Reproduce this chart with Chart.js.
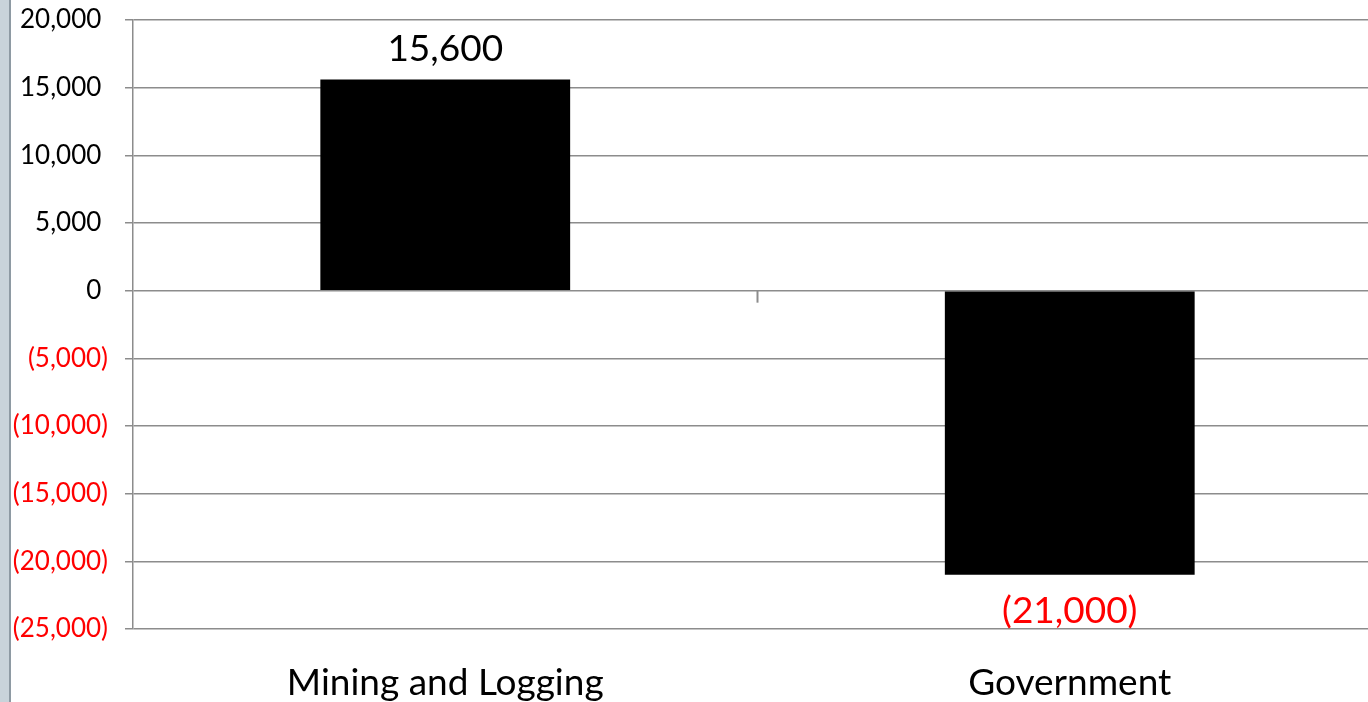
<!DOCTYPE html>
<html>
<head>
<meta charset="utf-8">
<title>Mining and Logging vs Government</title>
<script src="https://cdn.jsdelivr.net/npm/chart.js@4"></script>
<style>
  html, body { margin: 0; padding: 0; background: #fff; overflow: hidden; }
  #wrap { position: relative; width: 1390px; height: 702px; }
  #frame {
    position: absolute; left: 0; top: 0; width: 9px; height: 702px;
    background: #c9d3da; border-right: 2px solid #8e9aa3; z-index: 2;
  }
</style>
</head>
<body>
<div id="wrap">
  <div id="frame"></div>
  <canvas id="barChart"></canvas>
</div>
<script>
// chart data
const categories = ["Mining and Logging", "Government"];
const values = [15600, -21000];
const yTicks = [-25000, -20000, -15000, -10000, -5000, 0, 5000, 10000, 15000, 20000];

const FONT = "Lato, 'Open Sans', sans-serif";
const RED = "#ff0000";

// accounting style: negatives in brackets
function fmt(v) {
  const s = Math.abs(v).toLocaleString("en-US");
  return v < 0 ? `(${s})` : s;
}

// value labels above / below each bar
const barLabels = {
  id: "barLabels",
  afterDatasetsDraw(chart) {
    const ctx = chart.ctx;
    const meta = chart.getDatasetMeta(0);
    ctx.save();
    ctx.font = `37px ${FONT}`;
    ctx.textAlign = "center";
    ctx.textBaseline = "alphabetic";
    meta.data.forEach((bar, i) => {
      const v = values[i];
      ctx.fillStyle = v < 0 ? RED : "#000";
      const y = v < 0 ? bar.y + 48 : bar.y - 19;
      ctx.fillText(fmt(v), bar.x, y);
    });
    ctx.restore();
  },
};

// little tick on the zero line between the two categories
const zeroTick = {
  id: "zeroTick",
  afterDraw(chart) {
    const { x, y } = chart.scales;
    const mid = (x.getPixelForValue(0) + x.getPixelForValue(1)) / 2;
    const y0 = y.getPixelForValue(0);
    const ctx = chart.ctx;
    ctx.save();
    ctx.strokeStyle = "#8c8c8c";
    ctx.lineWidth = 2;
    ctx.beginPath();
    ctx.moveTo(mid, y0);
    ctx.lineTo(mid, y0 + 12);
    ctx.stroke();
    ctx.restore();
  },
};

new Chart(document.getElementById("barChart"), {
  type: "bar",
  data: {
    labels: categories,
    datasets: [
      {
        data: values,
        backgroundColor: "#000",
        borderWidth: 0,
        barPercentage: 0.4,
        categoryPercentage: 1,
      },
    ],
  },
  options: {
    responsive: true,
    maintainAspectRatio: false,
    animation: false,
    layout: { padding: { top: 20, right: 8, left: 0, bottom: 0 } },
    plugins: {
      legend: { display: false },
      tooltip: { enabled: false },
    },
    scales: {
      x: {
        grid: { display: false, drawTicks: false },
        border: { display: false },
        ticks: {
          color: "#000",
          font: { family: FONT, size: 37 },
          padding: 32,
          maxRotation: 0,
        },
        afterFit: (s) => {
          s.height = 73;
          s.paddingTop = 0;
          s.paddingBottom = 0;
        },
      },
      y: {
        min: -25000,
        max: 20000,
        grid: { color: "#8c8c8c", lineWidth: 1.5, tickLength: 8 },
        border: { display: true, color: "#8c8c8c", width: 1.5 },
        ticks: {
          color: (c) => (c.tick.value < 0 ? RED : "#000"),
          font: { family: FONT, size: 26 },
          padding: 17,
          // positives get a trailing space so digits line up with the bracketed ones
          callback: (v) => (v < 0 ? fmt(v) : fmt(v) + " "),
        },
        afterBuildTicks: (s) => { s.ticks = yTicks.map((v) => ({ value: v })); },
        afterFit: (s) => {
          s.width = 133;
          s.paddingTop = 0;
          s.paddingBottom = 0;
        },
      },
    },
  },
  plugins: [barLabels, zeroTick],
});
</script>
</body>
</html>
